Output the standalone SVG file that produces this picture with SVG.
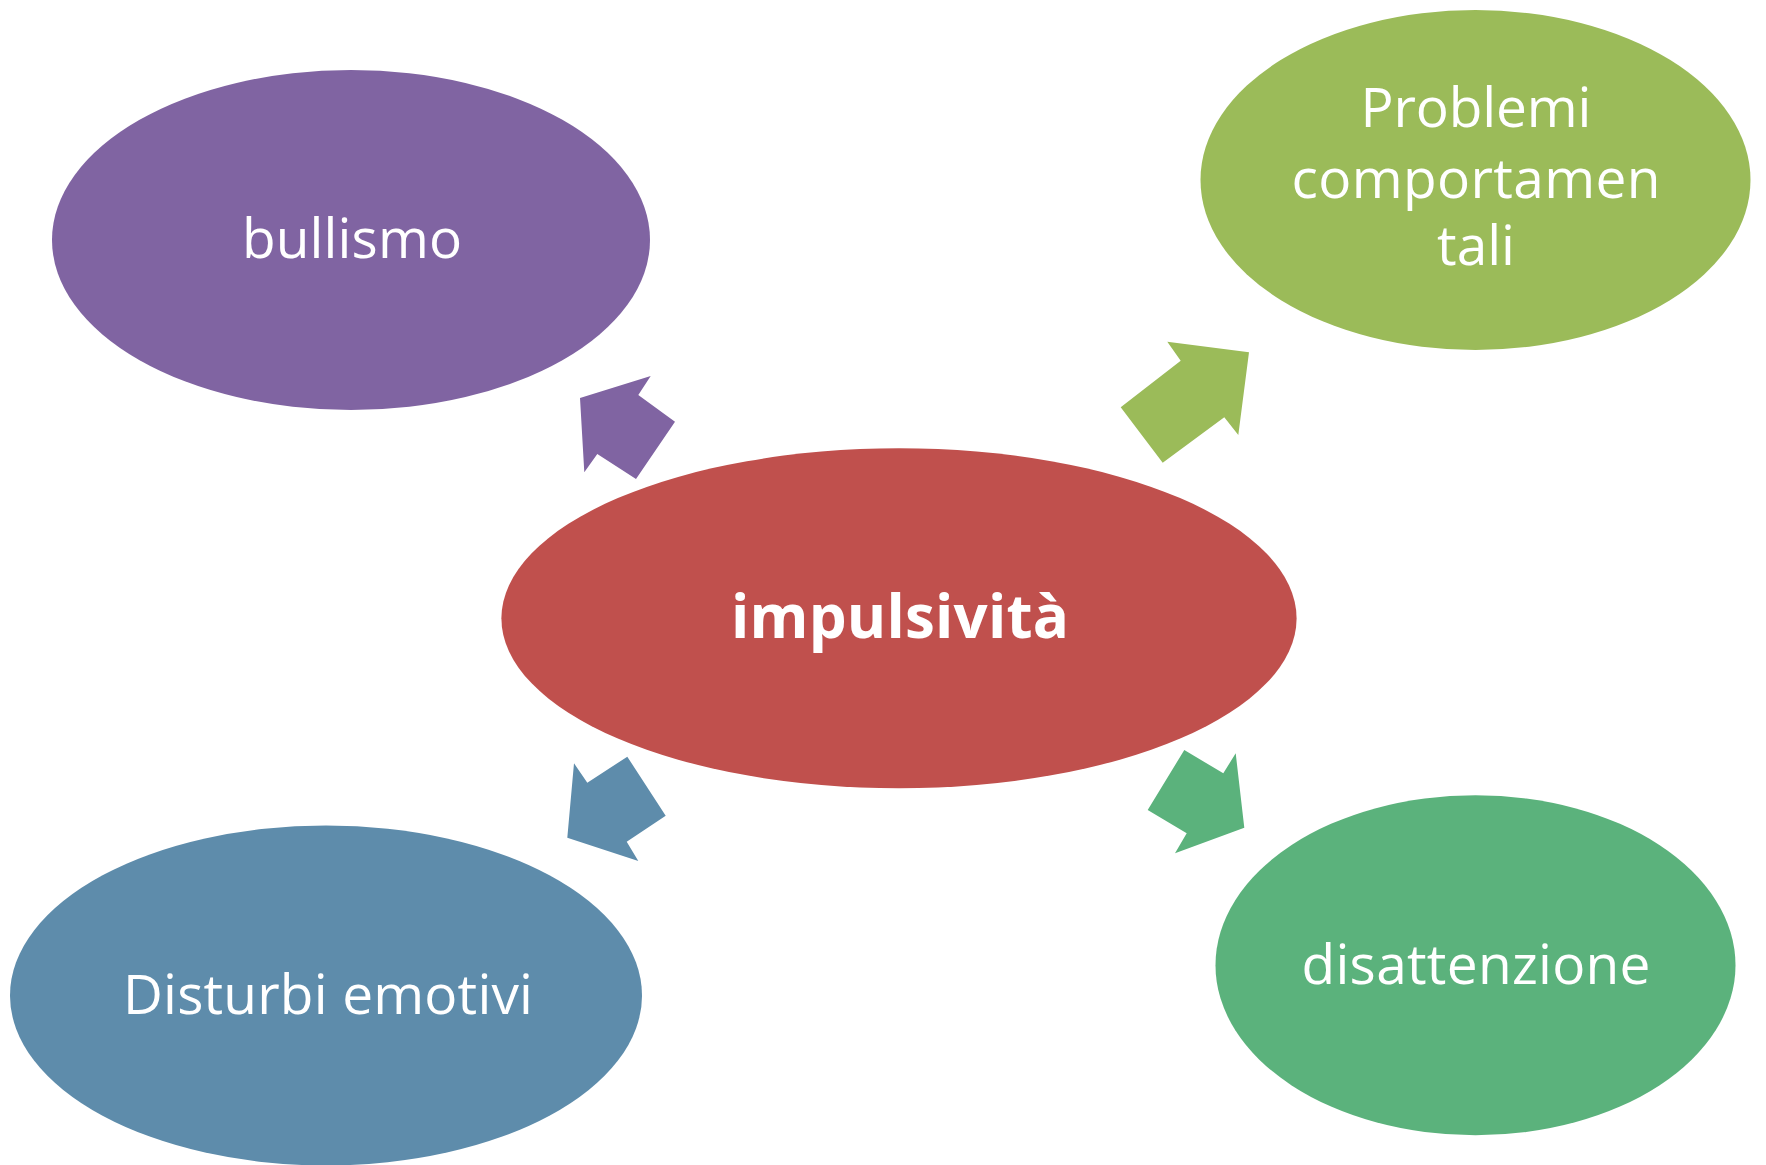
<svg xmlns="http://www.w3.org/2000/svg" width="1766" height="1165" viewBox="0 0 1766 1165">
<style>
.lbl{font-family:"Open Sans","Liberation Sans",sans-serif;font-size:55px;fill:#ffffff;text-anchor:middle}
.bold{font-weight:bold;font-size:60px}
</style>
<rect width="1766" height="1165" fill="#ffffff"/>
<g id="node-bullismo">
<ellipse cx="351" cy="240" rx="299" ry="170" fill="#8064A2"/>
<text class="lbl" x="352" y="257.5" textLength="220" lengthAdjust="spacing">bullismo</text>
</g>
<g id="node-problemi">
<ellipse cx="1475.5" cy="180" rx="275" ry="170" fill="#9BBB59"/>
<text class="lbl" x="1476" y="126.7" textLength="231" lengthAdjust="spacing">Problemi</text>
<text class="lbl" x="1476" y="198.3" textLength="369" lengthAdjust="spacing">comportamen</text>
<text class="lbl" x="1476" y="265">tali</text>
</g>
<g id="node-impulsivita">
<ellipse cx="899" cy="618.3" rx="397.6" ry="170" fill="#C0504D"/>
<text class="lbl bold" x="900" y="638.3" textLength="338" lengthAdjust="spacing">impulsività</text>
</g>
<g id="node-disturbi">
<ellipse cx="326" cy="995.5" rx="316" ry="170" fill="#5E8CAB"/>
<text class="lbl" x="328" y="1014" textLength="410" lengthAdjust="spacing">Disturbi emotivi</text>
</g>
<g id="node-disattenzione">
<ellipse cx="1475.5" cy="965.2" rx="260" ry="170" fill="#5BB27C"/>
<text class="lbl" x="1476" y="983.5" textLength="349" lengthAdjust="spacing">disattenzione</text>
</g>
<g id="connectors">
<polygon fill="#8064A2" points="580,398 650.7,376 638.3,395 675,421.7 636,479 597.3,454 584.3,472.3"/>
<polygon fill="#9BBB59" points="1249,352.3 1238.3,435 1224.3,417.3 1162.7,462.7 1120.7,407.3 1180.7,360.7 1167.3,341.7"/>
<polygon fill="#5E8CAB" points="567.3,837.7 574,763.3 587.3,782.7 627.3,756.7 665.7,815.7 626.7,841.7 638.3,861"/>
<polygon fill="#5BB27C" points="1244.3,827.7 1175,853.3 1186.7,833.3 1147.7,810 1184.3,750 1223.3,773.3 1235.7,753.3"/>
</g>
</svg>
